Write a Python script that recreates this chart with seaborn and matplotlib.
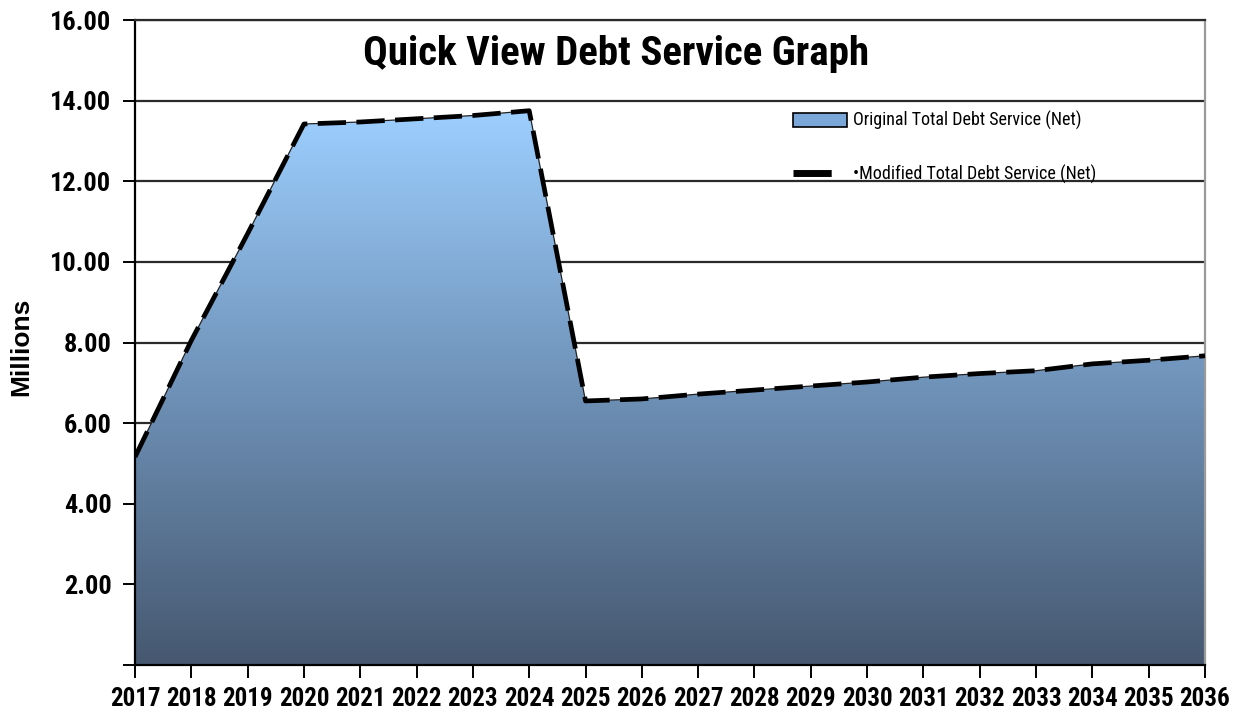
import numpy as np
import pandas as pd
import matplotlib
matplotlib.use("Agg")
import matplotlib.pyplot as plt
import seaborn as sns
from matplotlib.colors import LinearSegmentedColormap
from matplotlib.lines import Line2D
from matplotlib.patches import Patch

# ---- data (millions) ----
years = list(range(2017, 2037))
original = [5.16, 8.05, 10.70, 13.42, 13.47, 13.55, 13.63, 13.75, 6.55, 6.60,
            6.72, 6.82, 6.92, 7.02, 7.14, 7.23, 7.30, 7.47, 7.56, 7.67]
modified = [5.16, 8.05, 10.70, 13.42, 13.47, 13.55, 13.63, 13.75, 6.55, 6.60,
            6.72, 6.82, 6.92, 7.02, 7.14, 7.23, 7.30, 7.47, 7.56, 7.67]
y_ticks = [0, 2, 4, 6, 8, 10, 12, 14, 16]
y_tick_labels = ["", "2.00", "4.00", "6.00", "8.00", "10.00", "12.00", "14.00", "16.00"]
title = "Quick View Debt Service Graph"
ylabel = "Millions"
label_orig = "Original Total Debt Service (Net)"
label_mod = "\u2022Modified Total Debt Service (Net)"

df = pd.DataFrame({"year": years, "original": original, "modified": modified})

sns.set_style("white")
plt.rcParams['font.family'] = ['Roboto Condensed', 'DejaVu Sans']
plt.rcParams['text.color'] = 'black'
plt.rcParams['axes.labelcolor'] = 'black'
plt.rcParams['xtick.color'] = 'black'
plt.rcParams['ytick.color'] = 'black'

fig = plt.figure(figsize=(12.33, 7.15), dpi=100)
ax = fig.add_axes([135/1233, 1-665/715, 1070/1233, 645/715])

# gridlines
ax.set_axisbelow(True)
ax.yaxis.grid(True, color='#2a2a2a', lw=1.6, zorder=0)
ax.xaxis.grid(False)

# gradient area
poly = ax.fill_between(df["year"], df["original"], 0, facecolor='none',
                       edgecolor='#222222', lw=0.9, zorder=2)
cmap = LinearSegmentedColormap.from_list("g", ["#465870", "#6f92b8", "#9dcfff"])
grad = np.linspace(0, 1, 256).reshape(-1, 1)
im = ax.imshow(grad, cmap=cmap, extent=[years[0], years[-1], 0, 13.8],
               origin='lower', aspect='auto', zorder=1.5, interpolation='bilinear')
im.set_clip_path(poly.get_paths()[0], transform=ax.transData)

# dashed modified line
sns.lineplot(data=df, x="year", y="modified", ax=ax, color='black', lw=3.4,
             linestyle=(0, (6, 2.2)), zorder=3)

ax.set_xlim(years[0], years[-1])
ax.set_ylim(0, 16)
ax.set_xticks(years)
ax.set_xticklabels([str(y) for y in years], fontsize=18, fontweight='bold')
ax.set_yticks(y_ticks)
ax.set_yticklabels(y_tick_labels, fontsize=19, fontweight='bold')
ax.tick_params(axis='both', length=9, width=1.4, direction='out', color='black',
               bottom=True, left=True)
ax.tick_params(axis='x', pad=7)
ax.tick_params(axis='y', pad=8)
ax.set_xlabel("")
ax.set_ylabel(ylabel, fontsize=19, fontweight='bold', color='black',
              family=['Liberation Sans', 'DejaVu Sans'])
ax.yaxis.set_label_coords((33-135)/1070, (665-347)/645)

for side in ['left', 'bottom']:
    ax.spines[side].set_color('black')
    ax.spines[side].set_linewidth(1.6)
ax.spines['right'].set_color('#9a9a9a')
ax.spines['right'].set_linewidth(1.6)
ax.spines['top'].set_color('#2a2a2a')
ax.spines['top'].set_linewidth(1.6)

ax.text((616-135)/1070, (665-54)/645, title, transform=ax.transAxes,
        ha='center', va='center', fontsize=29.5, fontweight='bold')

handles = [Patch(facecolor='#7aa6d8', edgecolor='black', lw=1.2),
           Line2D([0], [0], color='black', lw=5, linestyle=(0, (5.5, 20)),
                  solid_capstyle='butt')]
leg = ax.legend(handles, [label_orig, label_mod], loc='upper left',
                bbox_to_anchor=((786-135)/1070, (665-104)/645),
                frameon=False, fontsize=13, handlelength=3.0, handleheight=0.8,
                labelspacing=1.9, handletextpad=0.3, borderaxespad=0)

fig.savefig("out.png", dpi=100)
